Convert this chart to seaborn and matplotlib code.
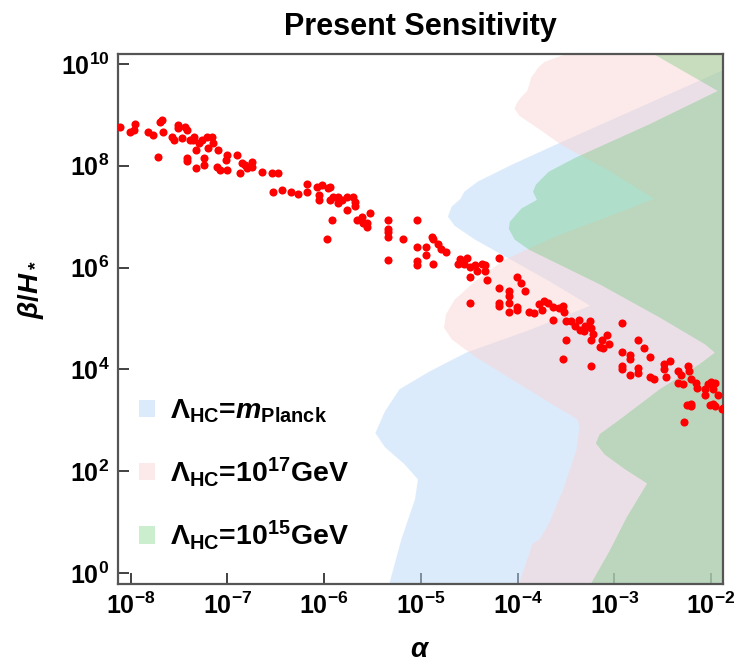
import numpy as np
import pandas as pd
import matplotlib
matplotlib.use("Agg")
import matplotlib.pyplot as plt
from matplotlib.patches import Patch
from matplotlib.ticker import FixedLocator, NullLocator, LogFormatterSciNotation
import seaborn as sns

sns.set_theme(style="ticks")
plt.rcParams["font.family"] = ["Liberation Sans", "DejaVu Sans"]
plt.rcParams["font.weight"] = "bold"
plt.rcParams["text.color"] = "black"
plt.rcParams["axes.labelcolor"] = "black"
plt.rcParams["xtick.color"] = "black"
plt.rcParams["ytick.color"] = "black"
plt.rcParams["mathtext.fontset"] = "custom"
plt.rcParams["mathtext.rm"] = "Liberation Sans:bold"
plt.rcParams["mathtext.bf"] = "Liberation Sans:bold"
plt.rcParams["mathtext.it"] = "Liberation Sans:bold:italic"

# ----------------------------------------------------------------------
# scan points (log10 alpha, log10 beta/H*)
# ----------------------------------------------------------------------
log_alpha = [
    -8.11, -8.01, -7.96, -7.95, -7.82, -7.77, -7.72, -7.70, -7.68, -7.67,
    -7.57, -7.55, -7.51, -7.51, -7.47, -7.44, -7.42, -7.42, -7.42, -7.39,
    -7.36, -7.34, -7.32, -7.32, -7.29, -7.26, -7.24, -7.24, -7.21, -7.20,
    -7.16, -7.15, -7.11, -7.10, -7.08, -7.01, -7.00, -7.00, -6.90, -6.87,
    -6.85, -6.82, -6.80, -6.75, -6.74, -6.64, -6.54, -6.53, -6.48, -6.44,
    -6.34, -6.27, -6.18, -6.18, -6.07, -6.05, -6.02, -5.96, -5.94, -5.94,
    -6.05, -5.97, -5.92, -5.91, -5.86, -5.86, -5.81, -5.76, -5.76, -5.70,
    -5.68, -5.68, -5.66, -5.61, -5.60, -5.56, -5.53, -5.34, -5.34, -5.34,
    -5.34, -5.34, -5.18, -5.04, -5.04, -5.04, -5.04, -5.56, -4.87, -4.95,
    -4.95, -4.88, -4.82, -4.79, -4.74, -4.87, -4.62, -4.59, -4.55, -4.52,
    -4.49, -4.49, -4.44, -4.42, -4.37, -4.34, -4.34, -4.32, -4.19, -4.19,
    -4.09, -4.09, -4.01, -3.96, -3.92, -4.19, -4.19, -4.09, -4.09, -4.01,
    -4.01, -3.88, -3.83, -4.49, -3.78, -3.75, -3.73, -3.68, -3.63, -3.63,
    -3.57, -3.53, -3.52, -3.50, -3.45, -3.41, -3.36, -3.35, -3.31, -3.30,
    -3.25, -3.24, -3.22, -3.24, -3.13, -3.15, -3.12, -3.08, -3.05, -3.50,
    -3.53, -3.24, -2.92, -2.92, -2.84, -2.84, -2.75, -2.69, -2.63, -2.92,
    -2.92, -2.84, -2.75, -2.75, -2.63, -2.59, -2.49, -2.49, -2.47, -2.42,
    -2.34, -2.31, -2.34, -2.29, -2.24, -2.23, -2.21, -2.16, -2.14, -2.06,
    -2.03, -2.00, -1.96, -1.98, -2.06, -1.93, -2.21, -1.96, -1.88, -2.28,
    -2.21, -1.98, -1.89, -2.25, -2.01,
]
log_beta = [
    8.77, 8.67, 8.71, 8.82, 8.67, 8.61, 8.18, 8.86, 8.90, 8.67,
    8.57, 8.51, 8.80, 8.75, 8.55, 8.77, 8.71, 8.16, 8.10, 8.51,
    8.51, 8.57, 8.31, 7.96, 8.45, 8.51, 8.16, 8.02, 8.57, 8.35,
    8.57, 8.45, 7.98, 8.31, 7.92, 8.12, 8.22, 7.92, 8.22, 7.86,
    8.06, 8.02, 7.96, 8.08, 7.98, 7.88, 7.86, 7.49, 7.86, 7.53,
    7.49, 7.45, 7.65, 7.49, 7.59, 7.43, 7.63, 7.57, 7.59, 7.33,
    7.33, 6.57, 6.94, 7.39, 7.39, 7.27, 7.33, 7.39, 7.14, 7.39,
    7.29, 7.20, 6.94, 7.00, 6.88, 6.88, 7.08, 6.94, 6.75, 6.69,
    6.61, 6.14, 6.57, 6.94, 6.41, 6.12, 6.06, 6.80, 6.57, 6.41,
    6.25, 6.61, 6.47, 6.37, 6.31, 6.08, 6.08, 6.16, 6.08, 6.18,
    6.02, 5.82, 6.06, 5.94, 6.08, 6.06, 5.94, 5.75, 6.18, 5.59,
    5.55, 5.45, 5.82, 5.69, 5.55, 5.31, 5.25, 5.31, 5.12, 5.22,
    5.16, 5.12, 5.10, 5.31, 5.29, 5.16, 5.35, 5.31, 5.22, 4.98,
    5.20, 5.25, 5.12, 4.96, 4.96, 4.86, 4.98, 4.78, 4.76, 4.86,
    4.96, 4.82, 4.69, 4.57, 4.57, 4.45, 4.43, 4.67, 4.49, 4.57,
    4.20, 4.06, 4.92, 4.35, 4.29, 4.20, 4.57, 4.43, 4.24, 4.06,
    4.00, 3.90, 4.02, 3.92, 3.86, 3.82, 4.10, 4.00, 3.86, 4.16,
    3.96, 3.90, 3.73, 3.71, 4.06, 3.96, 3.82, 3.73, 3.63, 3.61,
    3.71, 3.76, 3.73, 3.61, 3.49, 3.49, 3.29, 3.29, 3.24, 2.96,
    3.33, 3.33, 3.22, 3.31, 3.31,
]

# ----------------------------------------------------------------------
# left edges of the sensitivity regions (log10 beta/H*, log10 alpha),
# each region fills everything to the right of its edge
# ----------------------------------------------------------------------
planck_edge_beta = [9.90, 8.41, 8.02, 7.69, 7.49, 7.35, 7.20, 7.00, 6.82, 6.55,
                    6.22, 5.73, 5.25, 4.78, 4.33, 3.96, 3.61, 3.18, 2.75,
                    2.47, 2.14, 1.84, 1.45, 0.67, -0.24]
planck_edge_alpha = [-1.85, -3.61, -4.06, -4.41, -4.55, -4.59, -4.68, -4.72, -4.65, -4.44,
                     -4.13, -3.67, -3.25, -3.87, -4.53, -4.91, -5.22, -5.37, -5.47,
                     -5.37, -5.17, -5.03, -5.06, -5.20, -5.33]

gev17_edge_beta = [10.30, 10.04, 9.94, 9.73, 9.59, 9.47, 9.33, 9.22, 9.12, 8.98,
                   8.71, 8.39, 7.90, 7.35, 6.94, 6.65, 6.41, 6.16, 5.73, 5.37,
                   5.08, 4.82, 4.59, 4.25, 3.71, 3.22, 3.02, 2.88, 2.43, 1.63,
                   0.96, 0.67, 0.57, 0.43, 0.27, -0.24]
gev17_edge_alpha = [-3.35, -3.72, -3.78, -3.86, -3.88, -3.90, -3.97, -4.01, -4.03, -3.98,
                    -3.77, -3.53, -3.05, -2.59, -3.15, -3.56, -3.84, -4.13, -4.44, -4.65,
                    -4.74, -4.76, -4.68, -4.44, -3.98, -3.56, -3.38, -3.36, -3.39, -3.53,
                    -3.68, -3.77, -3.85, -3.87, -3.90, -3.99]

gev15_edge_beta = [10.30, 9.47, 8.82, 8.16, 7.88, 7.63, 7.49, 7.33, 7.16, 6.90,
                   6.76, 6.55, 6.35, 5.67, 5.02, 4.49, 4.33, 4.10, 3.61, 3.02,
                   2.73, 2.55, 2.33, 2.04, 1.76, 1.10, 0.43, -0.24]
gev15_edge_alpha = [-2.69, -1.93, -2.63, -3.40, -3.68, -3.81, -3.84, -3.80, -3.96, -4.08,
                    -4.09, -4.03, -3.88, -3.15, -2.53, -2.06, -1.96, -2.12, -2.53, -2.94,
                    -3.15, -3.19, -3.10, -2.89, -2.66, -2.87, -3.05, -3.25]

region_labels = [r"Λ$_{\mathrm{HC}}$=$m_{\mathrm{Planck}}$",
                 r"Λ$_{\mathrm{HC}}$=10$^{17}$GeV",
                 r"Λ$_{\mathrm{HC}}$=10$^{15}$GeV"]
region_colors = ["#b9d9f9", "#fbd5d5", "#2cbc3c"]
region_alphas = [0.5, 0.5, 0.25]

x_ticks = [1e-8, 1e-7, 1e-6, 1e-5, 1e-4, 1e-3, 1e-2]
y_ticks = [1e0, 1e2, 1e4, 1e6, 1e8, 1e10]
x_lim = (10 ** -8.134, 10 ** -1.876)
y_lim = (10 ** -0.216, 10 ** 10.196)

# ----------------------------------------------------------------------
fig = plt.figure(figsize=(7.4, 6.66), dpi=100)
ax = fig.add_axes([0.159, 0.123, 0.818, 0.796])
ax.set_xscale("log")
ax.set_yscale("log")

edges = [(planck_edge_alpha, planck_edge_beta),
         (gev17_edge_alpha, gev17_edge_beta),
         (gev15_edge_alpha, gev15_edge_beta)]
far_right = -1.5
for (ea, eb), col, a in zip(edges, region_colors, region_alphas):
    px = list(ea) + [far_right, far_right]
    py = list(eb) + [eb[-1], eb[0]]
    ax.fill(10 ** np.array(px), 10 ** np.array(py), color=col, alpha=a, lw=0, zorder=1)

pts = pd.DataFrame({"alpha": 10 ** np.array(log_alpha), "beta": 10 ** np.array(log_beta)})
sns.scatterplot(data=pts, x="alpha", y="beta", ax=ax, color="#ff0000", s=34,
                linewidth=0, zorder=3)

ax.set_xlim(*x_lim)
ax.set_ylim(*y_lim)
ax.xaxis.set_major_locator(FixedLocator(x_ticks))
ax.yaxis.set_major_locator(FixedLocator(y_ticks))
ax.xaxis.set_major_formatter(LogFormatterSciNotation())
ax.yaxis.set_major_formatter(LogFormatterSciNotation())
ax.xaxis.set_minor_locator(NullLocator())
ax.yaxis.set_minor_locator(NullLocator())
ax.tick_params(direction="in", length=8, width=1.3, color="#333333",
               labelsize=18, pad=6)
for sp in ax.spines.values():
    sp.set_color("#555555")
    sp.set_linewidth(1.6)

ax.set_xlabel(r"$\alpha$", fontsize=20)
ax.set_ylabel(r"$\beta/H_*$", fontsize=20)
ax.xaxis.set_label_coords(0.5, -0.1)
ax.yaxis.set_label_coords(-0.118, 0.555)
ax.set_title("Present Sensitivity", fontsize=22, fontweight="bold", pad=14)

handles = [Patch(facecolor=c, alpha=a, edgecolor="none") for c, a in zip(region_colors, region_alphas)]
ax.legend(handles, region_labels, loc="lower left", bbox_to_anchor=(0.035, 0.06),
          borderaxespad=0, borderpad=0, frameon=False, fontsize=20.5,
          handlelength=0.55, handleheight=0.55, handletextpad=0.55, labelspacing=1.05)

fig.savefig("out.png", dpi=100)
